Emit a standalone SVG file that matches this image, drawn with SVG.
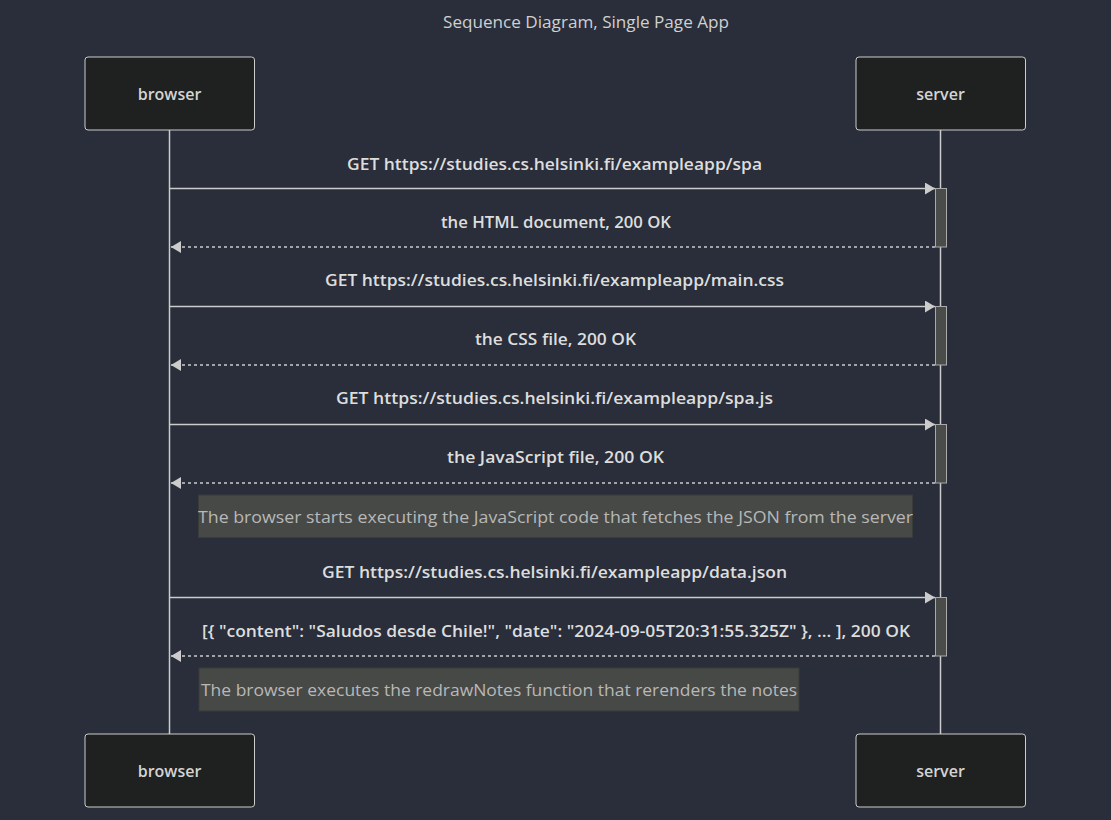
<svg xmlns="http://www.w3.org/2000/svg" width="1111" height="820" viewBox="0 0 1111 820">
<defs>
<marker id="arrow" viewBox="0 0 10 12" refX="10" refY="6" markerWidth="10" markerHeight="12" markerUnits="userSpaceOnUse" orient="auto">
<path d="M0,0 L10,6 L0,12 z" fill="#cccccc"/>
</marker>
</defs>
<style>
.bg{fill:#292e3a}
.actor{fill:#1f2020;stroke:#cccccc;stroke-width:1}
.actor-text{font-family:"Open Sans","Liberation Sans",sans-serif;font-size:16px;font-weight:600;fill:#d4d4d4;text-anchor:middle;dominant-baseline:central}
.life{stroke:#cccccc;stroke-width:1.5}
.msg{stroke:#cccccc;stroke-width:1.5;fill:none}
.dash{stroke-dasharray:3,3}
.msg-text{font-family:"Open Sans","Liberation Sans",sans-serif;font-size:16px;font-weight:600;fill:#dddddd;text-anchor:middle;dominant-baseline:central}
.act{fill:#4a4c4a;stroke:#aaaaaa;stroke-width:1}
.note{fill:#474947;stroke:#3a3c3a;stroke-width:1}
.note-text{font-family:"Open Sans","Liberation Sans",sans-serif;font-size:16px;fill:#b8b8b8;text-anchor:middle;dominant-baseline:central}
.title{font-family:"Open Sans","Liberation Sans",sans-serif;font-size:17px;fill:#d0d0d0;text-anchor:middle;dominant-baseline:central}
</style>
<rect class="bg" x="0" y="0" width="1111" height="820"/>
<text class="title" x="586" y="21" textLength="286" lengthAdjust="spacingAndGlyphs">Sequence Diagram, Single Page App</text>

<g id="lifelines">
<line class="life" x1="169.5" y1="130" x2="169.5" y2="734"/>
<line class="life" x1="940.5" y1="130" x2="940.5" y2="734"/>
</g>

<g id="activations">
<rect class="act" x="935.5" y="188.5" width="11" height="58.5"/>
<rect class="act" x="935.5" y="306.5" width="11" height="58.5"/>
<rect class="act" x="935.5" y="424.5" width="11" height="58.5"/>
<rect class="act" x="935.5" y="597.5" width="11" height="58.5"/>
</g>

<g id="connectors">
<line class="msg" x1="170" y1="188.5" x2="935" y2="188.5" marker-end="url(#arrow)"/>
<line class="msg dash" x1="935" y1="247" x2="171" y2="247" marker-end="url(#arrow)"/>
<line class="msg" x1="170" y1="306.5" x2="935" y2="306.5" marker-end="url(#arrow)"/>
<line class="msg dash" x1="935" y1="365" x2="171" y2="365" marker-end="url(#arrow)"/>
<line class="msg" x1="170" y1="424.5" x2="935" y2="424.5" marker-end="url(#arrow)"/>
<line class="msg dash" x1="935" y1="483" x2="171" y2="483" marker-end="url(#arrow)"/>
<line class="msg" x1="170" y1="597.5" x2="935" y2="597.5" marker-end="url(#arrow)"/>
<line class="msg dash" x1="935" y1="656" x2="171" y2="656" marker-end="url(#arrow)"/>
</g>

<g id="labels">
<text class="msg-text" x="554.5" y="164" textLength="415" lengthAdjust="spacingAndGlyphs">GET https://studies.cs.helsinki.fi/exampleapp/spa</text>
<text class="msg-text" x="556" y="222" textLength="230" lengthAdjust="spacingAndGlyphs">the HTML document, 200 OK</text>
<text class="msg-text" x="554.5" y="280" textLength="459" lengthAdjust="spacingAndGlyphs">GET https://studies.cs.helsinki.fi/exampleapp/main.css</text>
<text class="msg-text" x="555.5" y="339" textLength="161" lengthAdjust="spacingAndGlyphs">the CSS file, 200 OK</text>
<text class="msg-text" x="554.5" y="398" textLength="437" lengthAdjust="spacingAndGlyphs">GET https://studies.cs.helsinki.fi/exampleapp/spa.js</text>
<text class="msg-text" x="555.5" y="457" textLength="217" lengthAdjust="spacingAndGlyphs">the JavaScript file, 200 OK</text>
<text class="msg-text" x="554.5" y="572" textLength="465" lengthAdjust="spacingAndGlyphs">GET https://studies.cs.helsinki.fi/exampleapp/data.json</text>
<text class="msg-text" x="556" y="631" textLength="708" lengthAdjust="spacingAndGlyphs">[{ "content": "Saludos desde Chile!", "date": "2024-09-05T20:31:55.325Z" }, ... ], 200 OK</text>
</g>

<g id="note1">
<rect class="note" x="198.5" y="495" width="714" height="42.5"/>
<text class="note-text" x="555.5" y="517" textLength="715" lengthAdjust="spacingAndGlyphs">The browser starts executing the JavaScript code that fetches the JSON from the server</text>
</g>
<g id="note2">
<rect class="note" x="199" y="668" width="600" height="43"/>
<text class="note-text" x="499" y="690" textLength="596" lengthAdjust="spacingAndGlyphs">The browser executes the redrawNotes function that rerenders the notes</text>
</g>

<g id="browser-top">
<rect class="actor" x="85" y="57" width="169.5" height="73" rx="3"/>
<text class="actor-text" x="169.5" y="94">browser</text>
</g>
<g id="server-top">
<rect class="actor" x="856" y="57" width="169.5" height="73" rx="3"/>
<text class="actor-text" x="940.5" y="94">server</text>
</g>
<g id="browser-bottom">
<rect class="actor" x="85" y="734" width="169.5" height="73" rx="3"/>
<text class="actor-text" x="169.5" y="771">browser</text>
</g>
<g id="server-bottom">
<rect class="actor" x="856" y="734" width="169.5" height="73" rx="3"/>
<text class="actor-text" x="940.5" y="771">server</text>
</g>
</svg>
